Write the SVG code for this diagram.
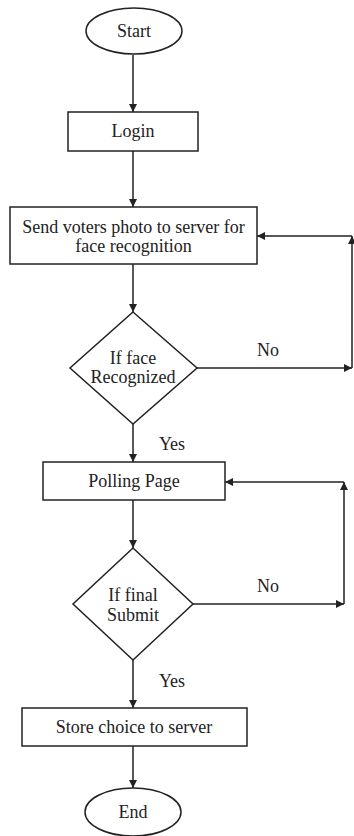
<svg xmlns="http://www.w3.org/2000/svg" width="354" height="836" viewBox="0 0 354 836">
<defs>
<marker id="ah" viewBox="0 0 10 10" refX="10" refY="5" markerWidth="8" markerHeight="8" orient="auto" markerUnits="userSpaceOnUse">
<path d="M0,0 L10,5 L0,10 z" fill="#222"/>
</marker>
<style>
.s{fill:#fff;stroke:#222;stroke-width:1.5}
.c{fill:none;stroke:#222;stroke-width:1.5}
text{font-family:"Liberation Serif","Times New Roman",serif;font-size:18px;fill:#222;text-anchor:middle;dominant-baseline:central}
</style>
</defs>
<rect width="354" height="836" fill="#fff"/>
<g id="connectors">
<line class="c" x1="133" y1="55" x2="133" y2="112" marker-end="url(#ah)"/>
<line class="c" x1="133" y1="151" x2="133" y2="207" marker-end="url(#ah)"/>
<line class="c" x1="133" y1="264" x2="133" y2="312" marker-end="url(#ah)"/>
<line class="c" x1="197" y1="368" x2="352" y2="368" marker-end="url(#ah)"/>
<line class="c" x1="352" y1="368" x2="352" y2="236" marker-end="url(#ah)"/>
<line class="c" x1="352" y1="236" x2="257" y2="236" marker-end="url(#ah)"/>
<line class="c" x1="133" y1="424" x2="133" y2="462" marker-end="url(#ah)"/>
<line class="c" x1="133" y1="500" x2="133" y2="548" marker-end="url(#ah)"/>
<line class="c" x1="193" y1="604" x2="344" y2="604" marker-end="url(#ah)"/>
<line class="c" x1="344" y1="604" x2="344" y2="482" marker-end="url(#ah)"/>
<line class="c" x1="344" y1="482" x2="225" y2="482" marker-end="url(#ah)"/>
<line class="c" x1="133" y1="660" x2="133" y2="708" marker-end="url(#ah)"/>
<line class="c" x1="133" y1="746" x2="133" y2="788" marker-end="url(#ah)"/>
<text x="268" y="350">No</text>
<text x="172" y="444">Yes</text>
<text x="268" y="586">No</text>
<text x="172" y="681">Yes</text>
</g>
<g id="start">
<ellipse class="s" cx="134" cy="31" rx="48" ry="23"/>
<text x="134" y="31">Start</text>
</g>
<g id="login">
<rect class="s" x="68" y="112" width="130" height="39"/>
<text x="133" y="131">Login</text>
</g>
<g id="send">
<rect class="s" x="10" y="207" width="247" height="57"/>
<text x="133.5" y="227">Send voters photo to server for</text>
<text x="133.5" y="246">face recognition</text>
</g>
<g id="face">
<polygon class="s" points="133,312 197,368 133,424 70,368"/>
<text x="133" y="358">If face</text>
<text x="133" y="377">Recognized</text>
</g>
<g id="polling">
<rect class="s" x="43" y="462" width="182" height="38"/>
<text x="134" y="481">Polling Page</text>
</g>
<g id="submit">
<polygon class="s" points="133,548 193,604 133,660 73,604"/>
<text x="133" y="595">If final</text>
<text x="133" y="615">Submit</text>
</g>
<g id="store">
<rect class="s" x="22" y="708" width="225" height="38"/>
<text x="134" y="727">Store choice to server</text>
</g>
<g id="end">
<ellipse class="s" cx="133" cy="812" rx="48" ry="24"/>
<text x="133" y="812">End</text>
</g>
</svg>
